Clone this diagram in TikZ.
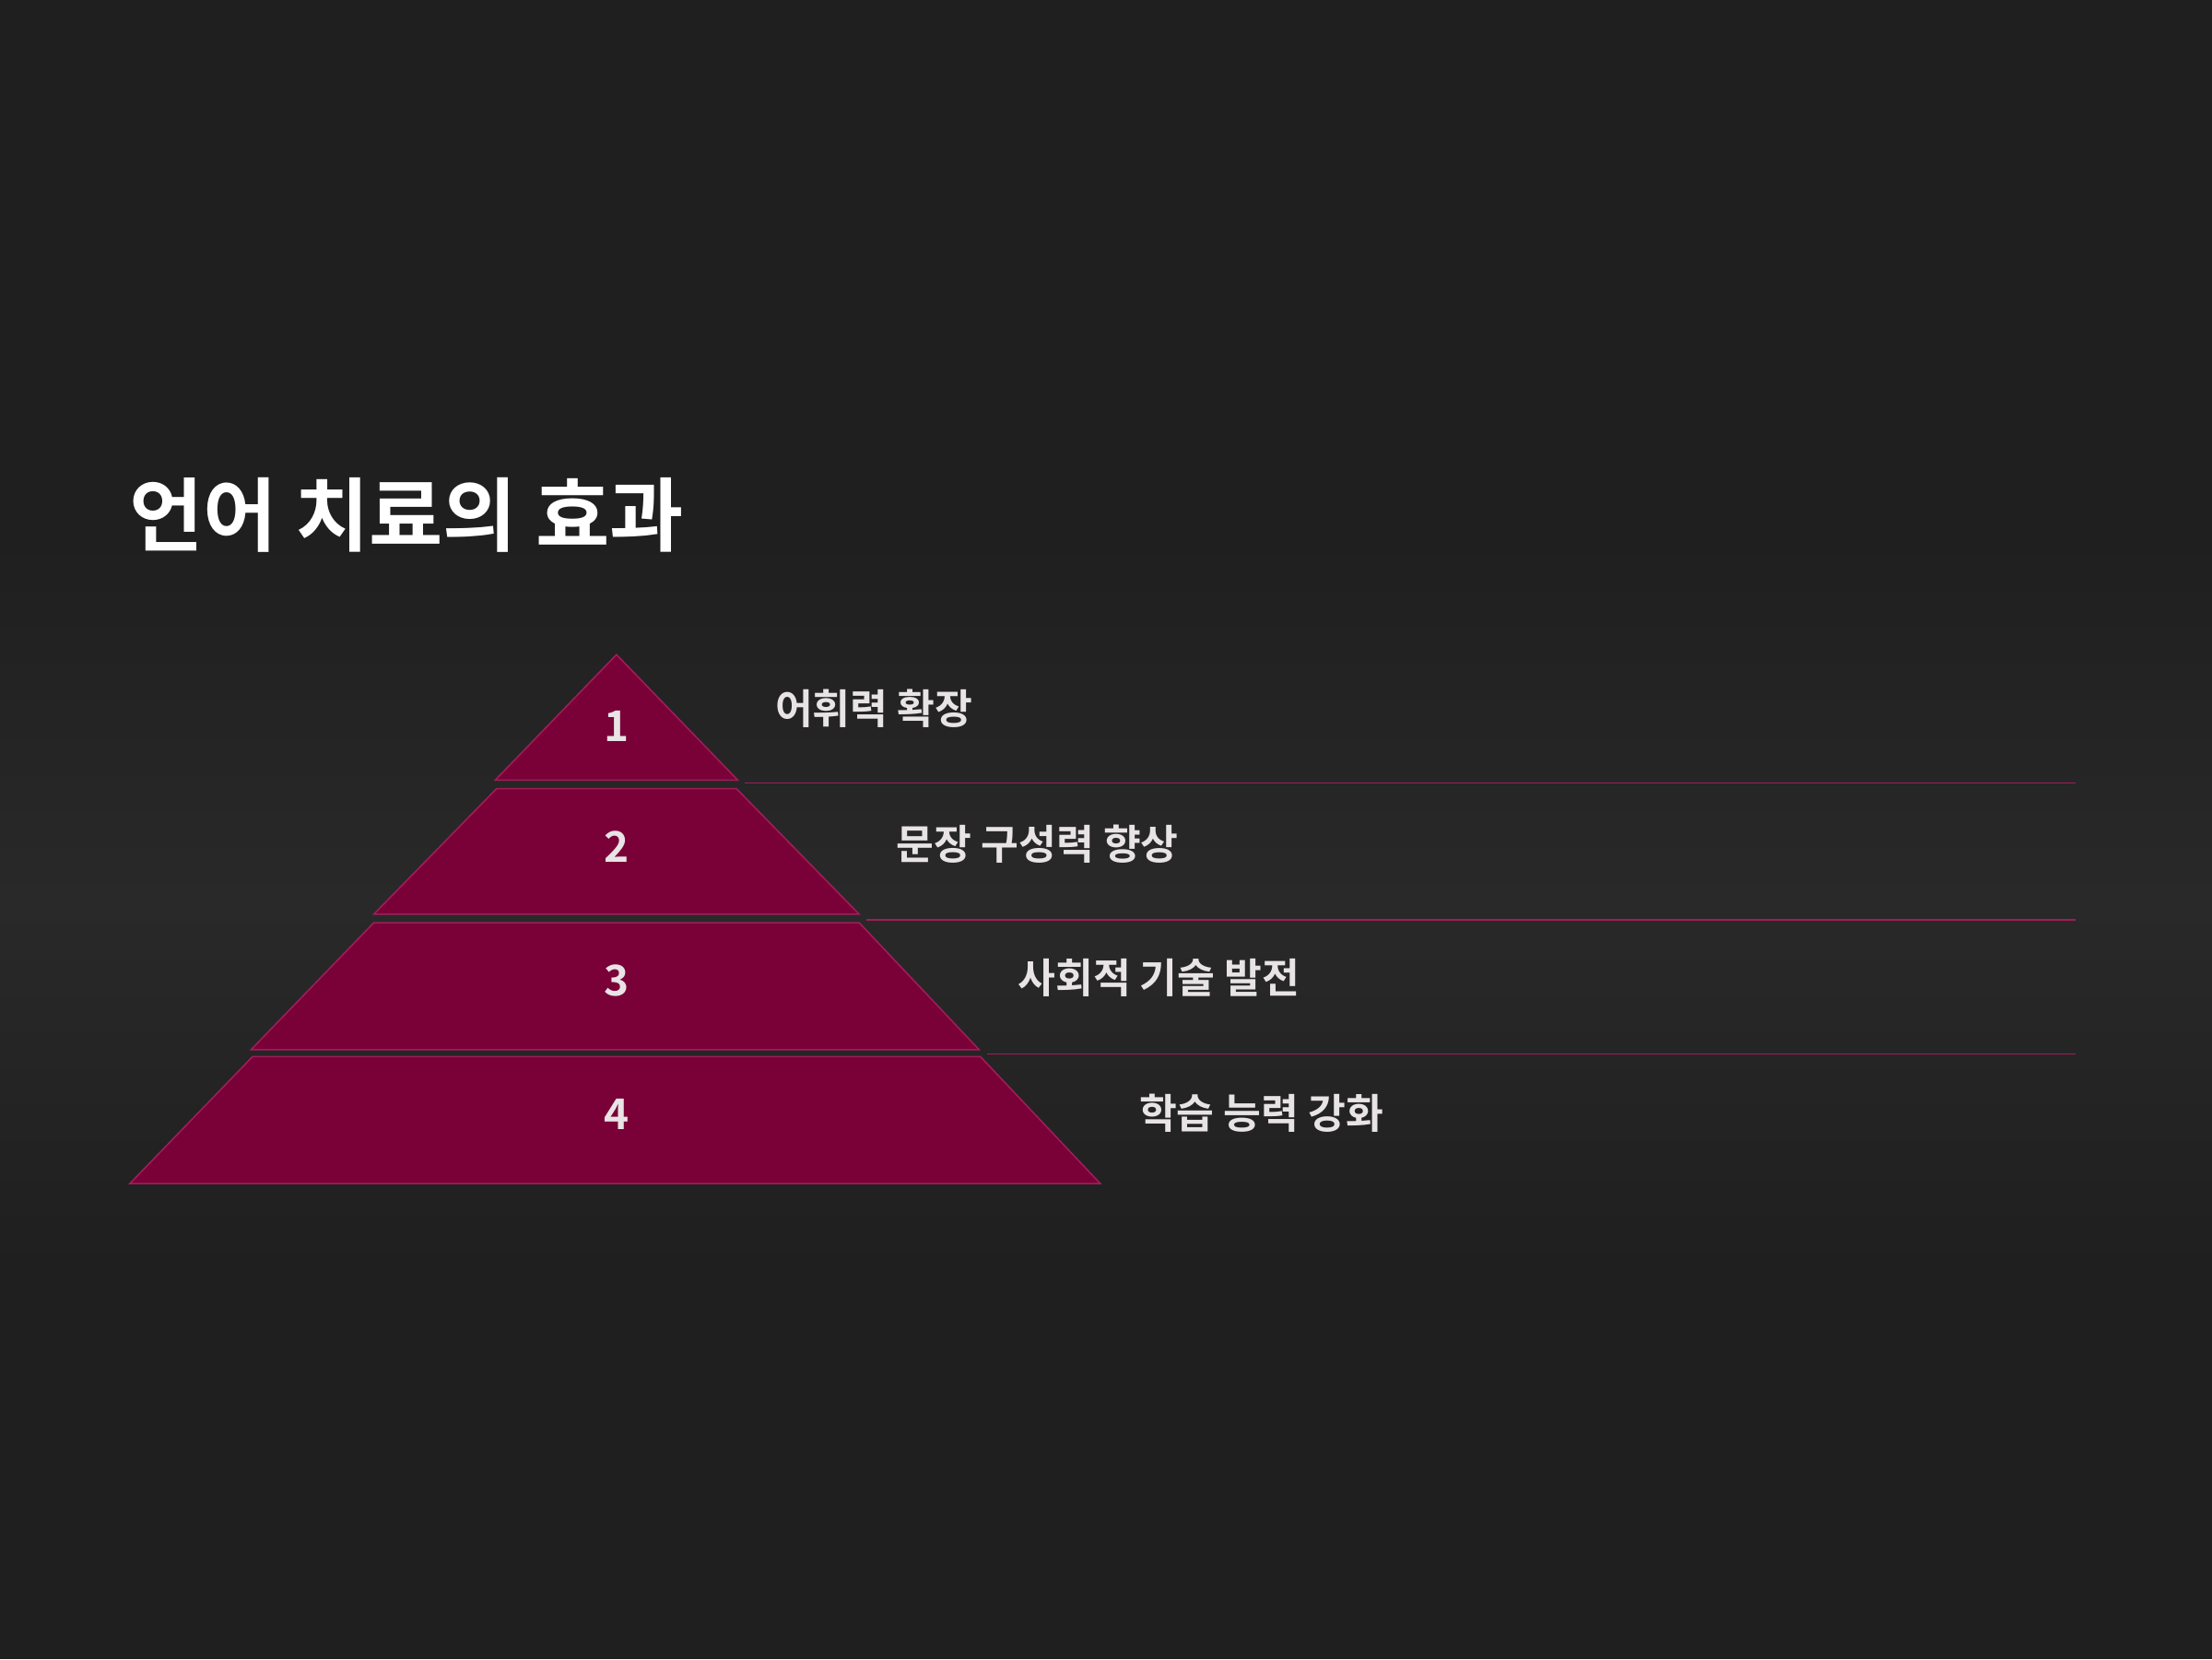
\documentclass[tikz,border=0pt]{standalone}
\usepackage{fontspec}
\setmainfont{Noto Sans CJK KR}
\newfontfamily\krb{Noto Sans CJK KR Bold}
\definecolor{bg}{HTML}{201F20}
\definecolor{bgmid}{HTML}{2A292A}
\definecolor{layer}{HTML}{7A0038}
\definecolor{edge}{HTML}{A01E58}
\definecolor{txt}{HTML}{E8E4E6}
\tikzset{
  tier/.style={fill=layer,draw=edge,line width=1pt},
  sep/.style={draw=edge,line width=0.9pt},
  num/.style={text=txt,font=\krb\fontsize{30}{30}\selectfont,anchor=center},
  lbl/.style={text=txt,font=\krb\fontsize{29}{29}\selectfont,anchor=west},
}
\begin{document}
\begin{tikzpicture}[x=1pt,y=-1pt]
\fill[bg] (0,0) rectangle (1568,1176);
\shade[top color=bg, bottom color=bg, middle color=bgmid] (0,380) rectangle (1568,900);
\useasboundingbox (0,0) rectangle (1568,1176);
\node[anchor=west,text=white,font=\krb\fontsize{57}{57}\selectfont] (title) at (88,365) {언어 치료의 효과};
\draw[tier] (437,464) -- (523,553) -- (351,553) -- cycle;
\draw[tier] (352,559) -- (522,559) -- (609,648) -- (265,648) -- cycle;
\draw[tier] (265,654) -- (609,654) -- (694,744) -- (178,744) -- cycle;
\draw[tier] (179,749) -- (695,749) -- (780,839) -- (92,839) -- cycle;
\node[num] (n1) at (437,515) {1};
\node[num] (n2) at (437,600) {2};
\node[num] (n3) at (437,695) {3};
\node[num] (n4) at (437,790) {4};
\coordinate (a1) at (528,555); \coordinate (b1) at (1471,555);
\coordinate (a2) at (614,652); \coordinate (b2) at (1471,652);
\coordinate (a3) at (700,747); \coordinate (b3) at (1471,747);
\draw[sep] (a1) -- (b1);
\draw[sep] (a2) -- (b2);
\draw[sep] (a3) -- (b3);
\node[lbl] (l1) at (546,502) {어휘력 확장};
\node[lbl] (l2) at (632,598) {문장 구성력 향상};
\node[lbl] (l3) at (718,693) {사회적 기술 발전};
\node[lbl] (l4) at (804,789) {학습 능력 강화};
\end{tikzpicture}
\end{document}
